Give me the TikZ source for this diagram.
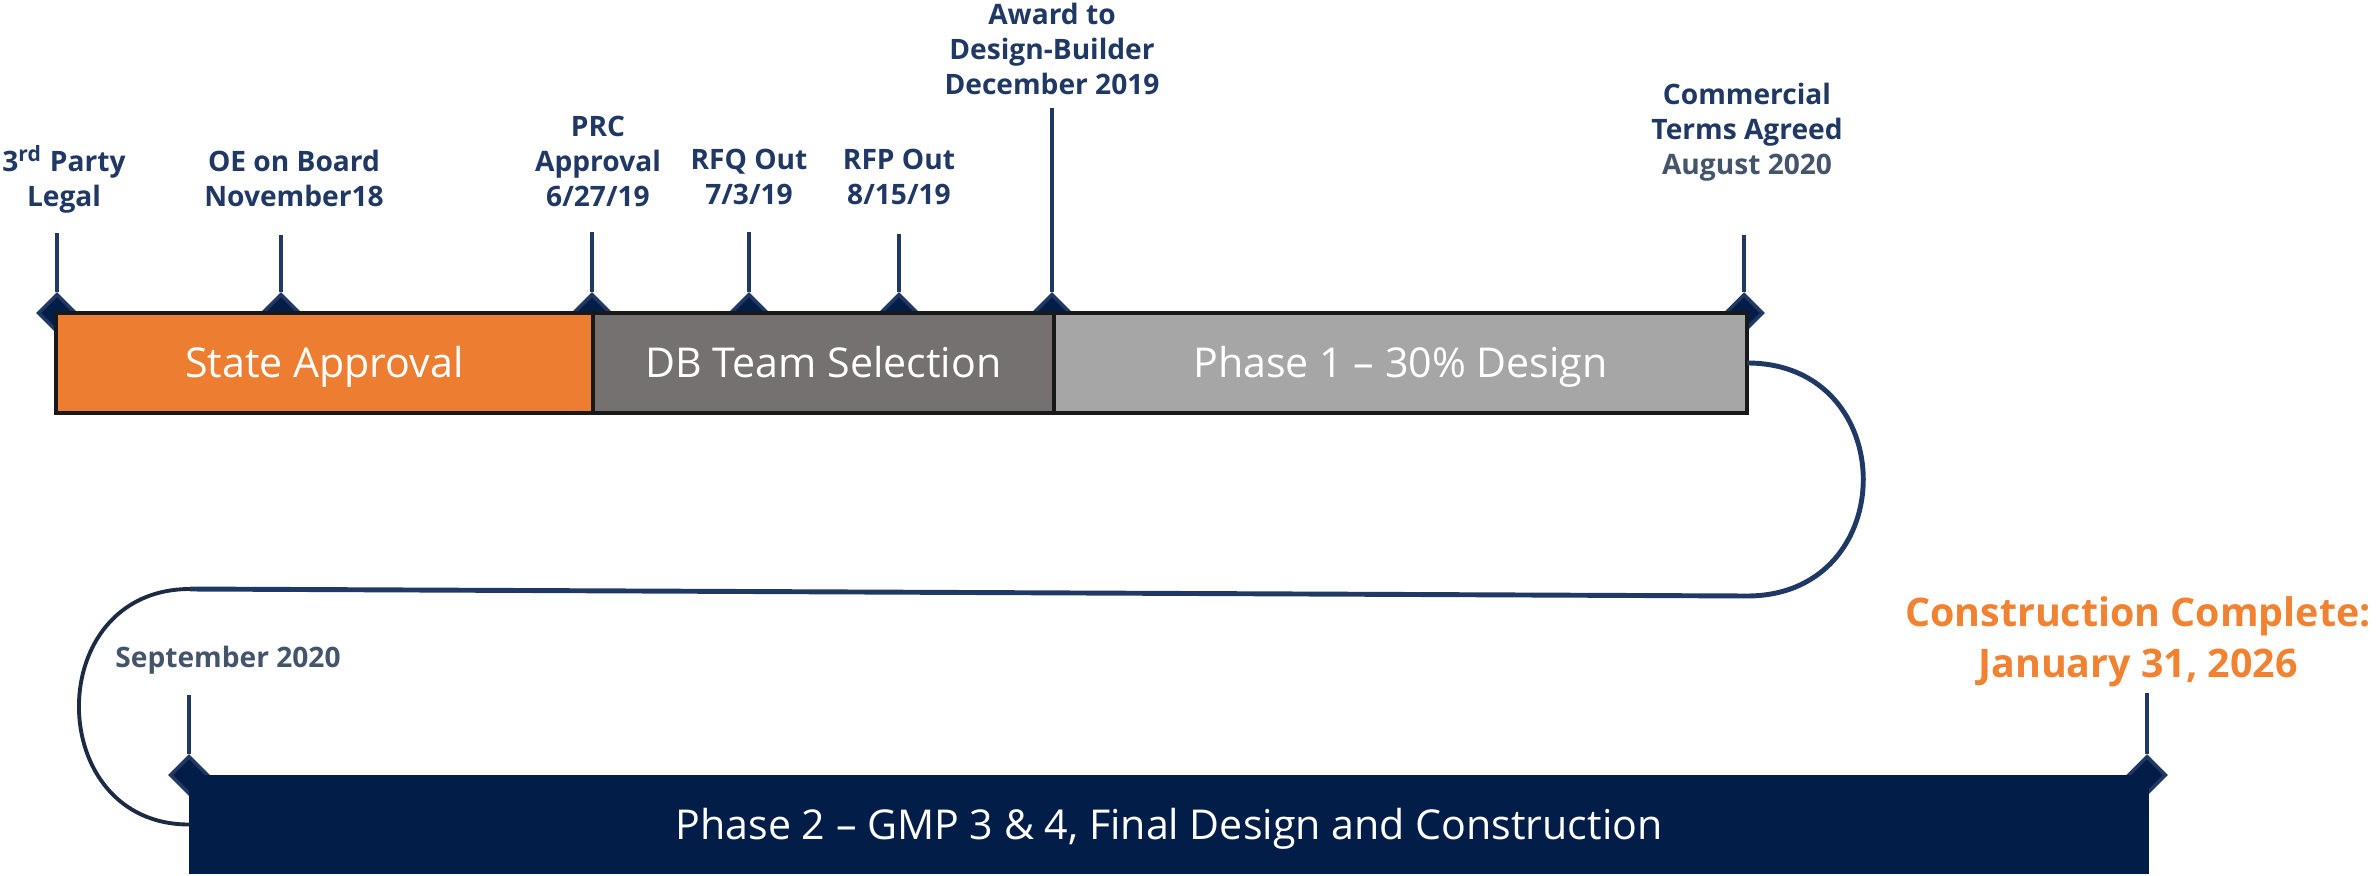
\documentclass[tikz,border=0pt]{standalone}
\usepackage{fontspec}
\setmainfont{Open Sans}
\usetikzlibrary{shapes.geometric}

\definecolor{navy}{RGB}{31,56,100}
\definecolor{slate}{RGB}{68,84,106}
\definecolor{deepnavy}{RGB}{2,30,72}
\definecolor{darkarc}{RGB}{28,42,68}
\definecolor{orangebar}{RGB}{237,125,49}
\definecolor{orangetext}{RGB}{240,130,50}
\definecolor{darkgrey}{RGB}{118,113,113}
\definecolor{lightgrey}{RGB}{166,166,166}

\tikzset{
    phasebar/.style={rectangle, draw=black!90, line width=1pt, inner sep=0pt, outer sep=0pt,
        minimum height=1cm, text=white, font=\fontsize{11.7}{14}\selectfont,
        text height=8.35pt, text depth=0pt},
    milestone/.style={diamond, aspect=1, fill=deepnavy, draw=navy, line width=1pt,
        minimum width=0.38cm, minimum height=0.38cm, inner sep=0pt},
    stick/.style={navy, line width=1.1pt},
    milelabel/.style={text=navy, align=center, anchor=base, inner sep=0pt,
        font=\bfseries\fontsize{8}{10}\selectfont},
    windline/.style={navy, line width=1.4pt},
}

\begin{document}
\begin{tikzpicture}[x=0.01cm, y=-0.01cm]
        \useasboundingbox (0,0) rectangle (2376,876);

        \node[milestone] (m1) at (57,313) {};
        \node[milestone] (m2) at (281,313) {};
        \node[milestone] (m3) at (592,313) {};
        \node[milestone] (m4) at (749,313) {};
        \node[milestone] (m5) at (899,313) {};
        \node[milestone] (m6) at (1052,313) {};
        \node[milestone] (m7) at (1744,313) {};
        \node[milestone] (m8) at (189,775) {};
        \node[milestone] (m9) at (2147,775) {};

        \node[phasebar, fill=orangebar, minimum width=5.37cm] (state) at (324.5,363) {State Approval};
        \node[phasebar, fill=darkgrey, minimum width=4.61cm] (dbteam) at (823.5,363) {DB Team Selection};
        \node[phasebar, fill=lightgrey, minimum width=6.93cm] (phase1) at (1400.5,363) {Phase 1 – 30\% Design};
        \node[phasebar, fill=deepnavy, draw=none, minimum width=19.58cm, minimum height=0.99cm] (phase2)
            at (1169,824.5) {Phase 2 – GMP 3 \& 4, Final Design and Construction};

        \coordinate (bendr) at (1747,596);
        \coordinate (bendl) at (190,589);
        \draw[windline] (phase1.east) .. controls (1902,363) and (1902,596) .. (bendr) -- (bendl);
        \draw[windline, darkarc, line width=1.1pt] (bendl) .. controls (41,589) and (43,825) .. (phase2.west);

        \coordinate (t1) at (57,233);
        \coordinate (t2) at (281,235);
        \coordinate (t3) at (592,232);
        \coordinate (t4) at (749,232);
        \coordinate (t5) at (899,234);
        \coordinate (t6) at (1052,108);
        \coordinate (t7) at (1744,235);
        \coordinate (t8) at (189,695);
        \coordinate (t9) at (2147,693);
        \foreach \i in {1,...,9}
            \draw[stick] (m\i.north) -- (t\i);

        \node[milelabel] (legal) at (64,207) {3\textsuperscript{rd} Party\\Legal};
        \node[milelabel] (oe) at (294,207) {OE on Board\\November18};
        \node[milelabel] (prc) at (598,207) {PRC\\Approval\\6/27/19};
        \node[milelabel] (rfq) at (749,205) {RFQ Out\\7/3/19};
        \node[milelabel] (rfp) at (899,205) {RFP Out\\8/15/19};
        \node[milelabel] (award) at (1052,95) {Award to\\Design-Builder\\December 2019};
        \node[milelabel] (terms) at (1747,175) {Commercial\\Terms Agreed\\\textcolor{slate}{August 2020}};
        \node[milelabel, text=slate] (sept) at (228,667) {September 2020};
        \node[milelabel, text=orangetext, font=\bfseries\fontsize{11.2}{14.4}\selectfont] (complete)
            at (2138,677) {Construction Complete:\\January 31, 2026};
\end{tikzpicture}
\end{document}
